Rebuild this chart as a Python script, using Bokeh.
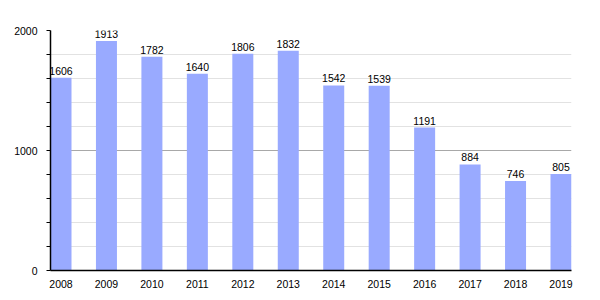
from bokeh.plotting import figure
from bokeh.models import ColumnDataSource, FixedTicker, Range1d, LabelSet
from bokeh.core.properties import value
from bokeh.embed import file_html
from bokeh.resources import INLINE

years = ["2008", "2009", "2010", "2011", "2012", "2013", "2014", "2015", "2016", "2017", "2018", "2019"]
values = [1606, 1913, 1782, 1640, 1806, 1832, 1542, 1539, 1191, 884, 746, 805]
y_ticks = [0, 1000, 2000]
y_minor = [200, 400, 600, 800, 1200, 1400, 1600, 1800]

bw = 0.462
xs = list(range(len(years)))
src = ColumnDataSource(dict(x=xs, v=values, lab=[str(v) for v in values]))

p = figure(width=600, height=300, output_backend="svg", toolbar_location=None,
           x_range=Range1d(-bw / 2, len(years) - 1 + bw / 2), y_range=Range1d(0, 2000),
           min_border_left=50, min_border_right=29, min_border_top=30, min_border_bottom=30)
p.outline_line_color = None
p.background_fill_color = "white"
p.border_fill_color = "white"

p.vbar(x="x", top="v", width=bw, source=src, fill_color="#99aaff", line_color=None)

labels = LabelSet(x="x", y="v", text="lab", source=src, text_align="center",
                  text_baseline="bottom", y_offset=3, text_font_size=value("10.5px"),
                  text_font=value("Liberation Sans"), text_color="black")
p.add_layout(labels)

p.xaxis.ticker = FixedTicker(ticks=xs)
p.xaxis.major_label_overrides = {i: y for i, y in enumerate(years)}
p.xaxis.major_tick_line_color = None
p.xaxis.minor_tick_line_color = None
p.xaxis.axis_line_color = "black"
p.xaxis.axis_line_width = 1.5
p.xaxis.major_label_standoff = 3
p.xaxis.major_label_text_font = "Liberation Sans"
p.xaxis.major_label_text_font_size = "10.5px"
p.xaxis.major_label_text_color = "black"

p.yaxis.ticker = FixedTicker(ticks=y_ticks, minor_ticks=y_minor)
p.yaxis.axis_line_color = "black"
p.yaxis.axis_line_width = 1.5
p.yaxis.major_tick_in = 0
p.yaxis.major_tick_out = 4
p.yaxis.minor_tick_in = 0
p.yaxis.minor_tick_out = 4
p.yaxis.major_tick_line_color = "black"
p.yaxis.minor_tick_line_color = "black"
p.yaxis.major_label_standoff = 9
p.yaxis.major_label_text_font = "Liberation Sans"
p.yaxis.major_label_text_font_size = "10.5px"
p.yaxis.major_label_text_color = "black"

p.xgrid.grid_line_color = None
p.ygrid.grid_line_color = "#a8a8a8"
p.ygrid.minor_grid_line_color = "#e2e2e2"
p.ygrid.level = "underlay"

open("out.html", "w").write(file_html(p, INLINE))
